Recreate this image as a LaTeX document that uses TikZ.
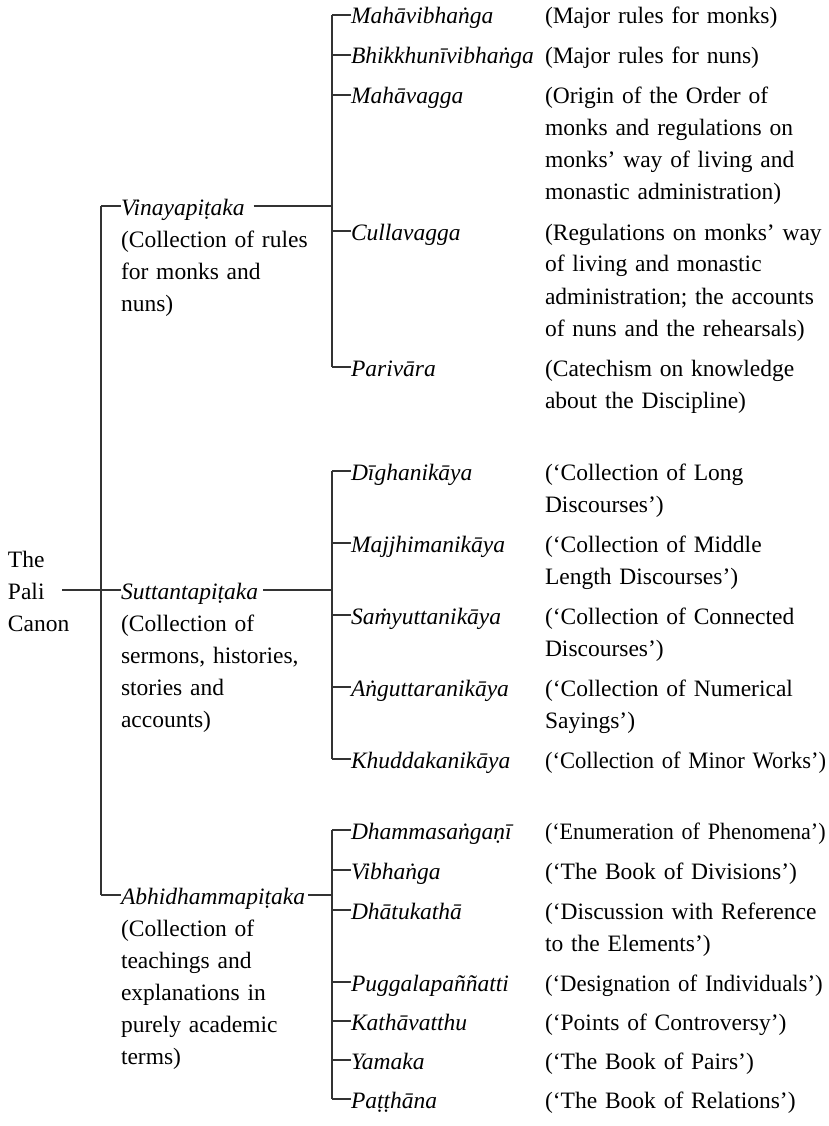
\documentclass[tikz,border=0pt]{standalone}
\usepackage{fontspec}
\setmainfont{Liberation Serif}
\usetikzlibrary{calc}

\tikzset{
  every node/.style={inner sep=0pt, outer sep=0pt},
  txt/.style={anchor=base west, font=\fontsize{23.5}{32}\selectfont},
  title/.style={txt, font=\fontsize{23.5}{32}\selectfont\itshape},
  gloss/.style={txt, text width=#1, align=left},
  gloss/.default=320pt,
  tight/.style={gloss, font=\fontsize{23.5}{32}\selectfont\addfontfeature{FakeStretch=#1}},
  branch/.style={draw=black!80, line width=1.2pt}
}

\begin{document}
\begin{tikzpicture}[x=1pt, y=-1pt]
\useasboundingbox (0,0) rectangle (829,1126);

% root
\node[gloss=63pt] (canon) at (8,567) {The\\Pali\\Canon};

% the three baskets
\node[title] (vinaya) at (121,215) {Vinayapiṭaka};
\node[gloss=200pt] (vinayadesc) at (121,247) {(Collection of rules\\for monks and\\nuns)};
\node[title] (suttanta) at (121,599) {Suttantapiṭaka};
\node[gloss=200pt] (suttantadesc) at (121,631) {(Collection of\\sermons, histories,\\stories and\\accounts)};
\node[title] (abhidhamma) at (121,904) {Abhidhammapiṭaka};
\node[gloss=200pt] (abhidhammadesc) at (121,936) {(Collection of\\teachings and\\explanations in\\purely academic\\terms)};

% Vinaya books
\node[title] (mahavibhanga) at (351,24) {Mahāvibhaṅga};
\node[gloss] (mahavibhangadesc) at (545,24) {(Major rules for monks)};
\node[title] (bhikkhuni) at (351,64) {Bhikkhunīvibhaṅga};
\node[gloss] (bhikkhunidesc) at (545,64) {(Major rules for nuns)};
\node[title] (mahavagga) at (351,104) {Mahāvagga};
\node[gloss] (mahavaggadesc) at (545,104) {(Origin of the Order of\\monks and regulations on\\monks’ way of living and\\monastic administration)};
\node[title] (cullavagga) at (351,240) {Cullavagga};
\node[gloss] (cullavaggadesc) at (545,240) {(Regulations on monks’ way\\of living and monastic\\administration; the accounts\\of nuns and the rehearsals)};
\node[title] (parivara) at (351,376) {Parivāra};
\node[gloss] (parivaradesc) at (545,376) {(Catechism on knowledge\\about the Discipline)};

% Sutta collections
\node[title] (digha) at (351,480) {Dīghanikāya};
\node[gloss] (dighadesc) at (545,480) {(‘Collection of Long\\Discourses’)};
\node[title] (majjhima) at (351,552) {Majjhimanikāya};
\node[gloss] (majjhimadesc) at (545,552) {(‘Collection of Middle\\Length Discourses’)};
\node[title] (samyutta) at (351,624) {Saṁyuttanikāya};
\node[gloss] (samyuttadesc) at (545,624) {(‘Collection of Connected\\Discourses’)};
\node[title] (anguttara) at (351,696) {Aṅguttaranikāya};
\node[gloss] (anguttaradesc) at (545,696) {(‘Collection of Numerical\\Sayings’)};
\node[title] (khuddaka) at (351,768) {Khuddakanikāya};
\node[tight=0.96] (khuddakadesc) at (545,768) {(‘Collection of Minor Works’)};

% Abhidhamma books
\node[title] (dhammasangani) at (351,839) {Dhammasaṅgaṇī};
\node[tight=0.94] (dhammasanganidesc) at (545,839) {(‘Enumeration of Phenomena’)};
\node[title] (vibhanga) at (351,879) {Vibhaṅga};
\node[gloss] (vibhangadesc) at (545,879) {(‘The Book of Divisions’)};
\node[title] (dhatukatha) at (351,919) {Dhātukathā};
\node[gloss] (dhatukathadesc) at (545,919) {(‘Discussion with Reference\\to the Elements’)};
\node[title] (puggala) at (351,991) {Puggalapaññatti};
\node[tight=0.97] (puggaladesc) at (545,991) {(‘Designation of Individuals’)};
\node[title] (kathavatthu) at (351,1030) {Kathāvatthu};
\node[gloss] (kathavatthudesc) at (545,1030) {(‘Points of Controversy’)};
\node[title] (yamaka) at (351,1069) {Yamaka};
\node[gloss] (yamakadesc) at (545,1069) {(‘The Book of Pairs’)};
\node[title] (patthana) at (351,1108) {Paṭṭhāna};
\node[gloss] (patthanadesc) at (545,1108) {(‘The Book of Relations’)};

% short ticks in front of every book
\foreach \n in {mahavibhanga,bhikkhuni,mahavagga,cullavagga,parivara,
                digha,majjhima,samyutta,anguttara,khuddaka,
                dhammasangani,vibhanga,dhatukatha,puggala,kathavatthu,yamaka,patthana}
  \draw[branch] ([yshift=9pt]\n.base west) -- ++(-19pt,0) coordinate (\n-end);

% ticks in front of the baskets
\foreach \n in {vinaya,suttanta,abhidhamma}
  \draw[branch] ([yshift=9pt]\n.base west) -- ++(-20pt,0) coordinate (\n-end);

% vertical bars
\draw[branch] (mahavibhanga-end) -- (parivara-end);
\draw[branch] (digha-end) -- (khuddaka-end);
\draw[branch] (dhammasangani-end) -- (patthana-end);
\draw[branch] (vinaya-end) -- (abhidhamma-end);

% basket to its bar
\draw[branch] ($(vinaya.base east)+(9pt,9pt)$) -| (mahavibhanga-end);
\draw[branch] ($(suttanta.base east)+(5pt,9pt)$) -| (digha-end);
\draw[branch] ($(abhidhamma.base east)+(3pt,9pt)$) -| (dhammasangani-end);

% root to the trunk
\draw[branch] ($(canon.east |- suttanta-end)+(-9pt,0)$) -- (suttanta-end);
\end{tikzpicture}
\end{document}
